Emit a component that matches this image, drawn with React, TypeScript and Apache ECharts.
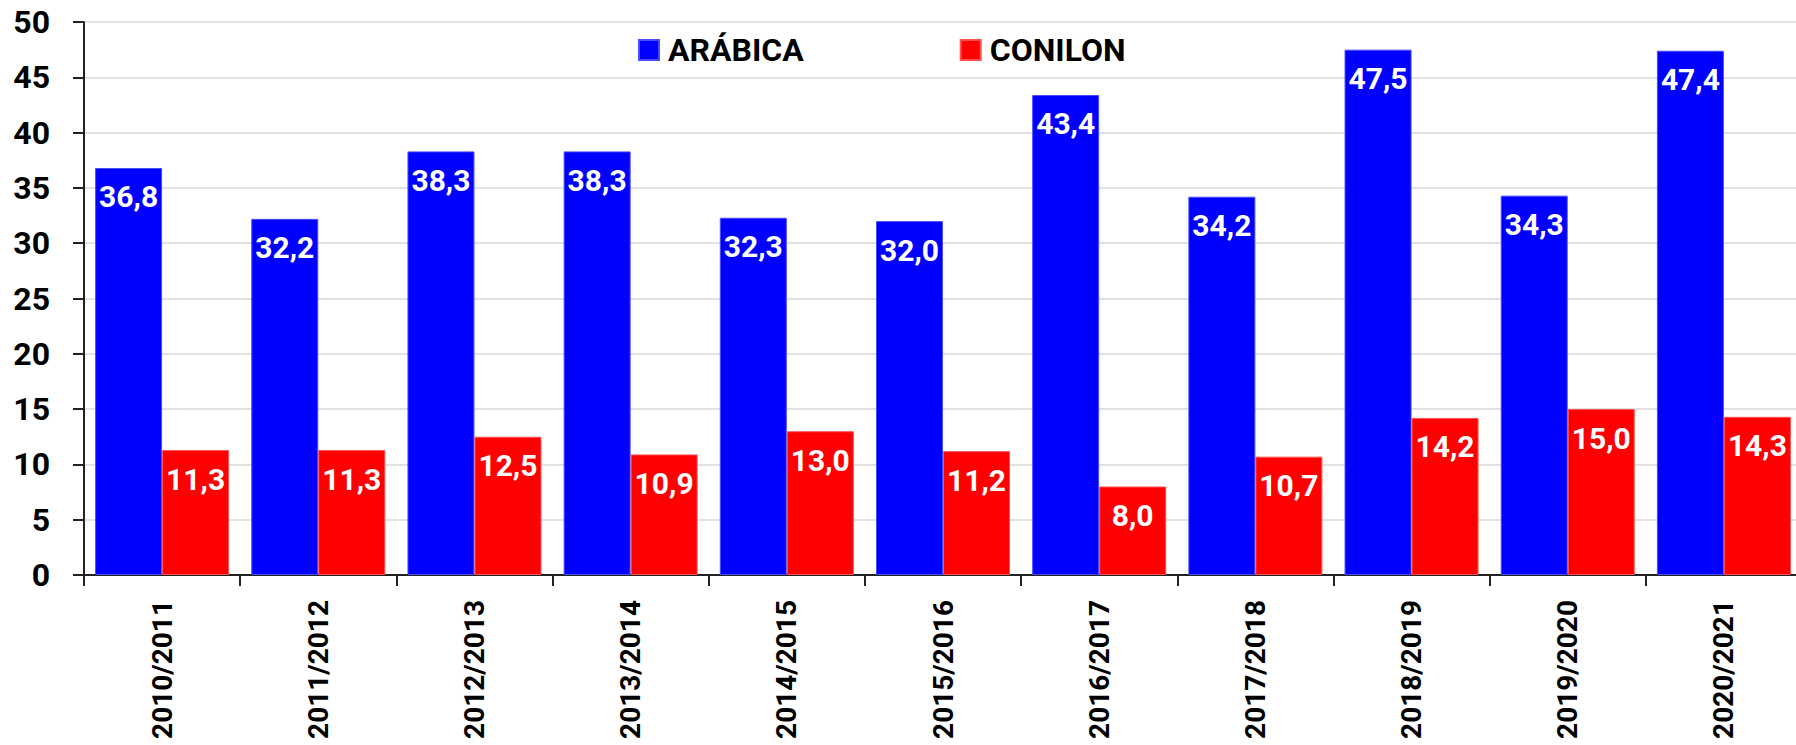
import React, { useEffect, useRef } from "react";
import * as echarts from "echarts";

const categories = [
  "2010/2011", "2011/2012", "2012/2013", "2013/2014", "2014/2015", "2015/2016",
  "2016/2017", "2017/2018", "2018/2019", "2019/2020", "2020/2021",
];
const arabica = [36.8, 32.2, 38.3, 38.3, 32.3, 32.0, 43.4, 34.2, 47.5, 34.3, 47.4];
const conilon = [11.3, 11.3, 12.5, 10.9, 13.0, 11.2, 8.0, 10.7, 14.2, 15.0, 14.3];
const yTicks = [0, 5, 10, 15, 20, 25, 30, 35, 40, 45, 50];

const FONT = "Roboto, 'Noto Sans', sans-serif";

export default function App() {
  const ref = useRef<HTMLDivElement>(null);
  useEffect(() => {
    if (!ref.current) return;
    const chart = echarts.init(ref.current, undefined, { renderer: "svg" });
    const labelCfg = {
      show: true,
      position: "insideTop",
      distance: 14,
      color: "#ffffff",
      fontFamily: FONT,
      fontWeight: "bold",
      fontSize: 30,
      formatter: (p: any) => Number(p.value).toFixed(1).replace(".", ","),
    };
    chart.setOption({
      animation: false,
      backgroundColor: "#ffffff",
      textStyle: { fontFamily: FONT },
      legend: {
        data: ["ARÁBICA", "CONILON"],
        left: 638,
        top: 34,
        padding: 0,
        itemWidth: 20,
        itemHeight: 20,
        itemGap: 156,
        icon: "rect",
        textStyle: { fontFamily: FONT, fontWeight: "bold", fontSize: 32, color: "#000", padding: [0, 0, 0, 4] },
      },
      grid: {
        left: 84,
        right: -6,
        top: 22,
        bottom: 170,
        outerBoundsMode: "none",
        containLabel: false,
        show: true,
        borderColor: "#888888",
        borderWidth: 2,
        backgroundColor: "transparent",
      },
      xAxis: {
        type: "category",
        data: categories,
        axisLine: { show: true, lineStyle: { color: "#222", width: 2 } },
        axisTick: { show: true, length: 11, lineStyle: { color: "#222", width: 2 } },
        axisLabel: {
          rotate: 90,
          margin: 25,
          color: "#000",
          fontFamily: FONT,
          fontWeight: "bold",
          fontSize: 28,
        },
      },
      yAxis: {
        type: "value",
        min: 0,
        max: 50,
        interval: 5,
        axisLine: { show: true, lineStyle: { color: "#222", width: 2 } },
        axisTick: { show: true, length: 11, lineStyle: { color: "#222", width: 2 } },
        axisLabel: {
          margin: 34,
          color: "#000",
          fontFamily: FONT,
          fontWeight: "bold",
          fontSize: 32,
          formatter: (v: number) => (yTicks.includes(v) ? String(v) : ""),
        },
        splitLine: { show: true, lineStyle: { color: "#e2e2e2", width: 2 } },
      },
      series: [
        {
          name: "ARÁBICA",
          type: "bar",
          data: arabica,
          barWidth: 67,
          barGap: "0%",
          itemStyle: { color: "#0000ff", borderColor: "#4a4aff", borderWidth: 1 },
          label: labelCfg,
        },
        {
          name: "CONILON",
          type: "bar",
          data: conilon,
          barWidth: 67,
          barGap: "0%",
          itemStyle: { color: "#ff0000", borderColor: "#ff5050", borderWidth: 1 },
          label: labelCfg,
        },
      ],
    });
    return () => chart.dispose();
  }, []);
  return (
    <div
      ref={ref}
      style={{ position: "fixed", left: 0, top: 0, width: 1796, height: 745, background: "#fff" }}
    />
  );
}
